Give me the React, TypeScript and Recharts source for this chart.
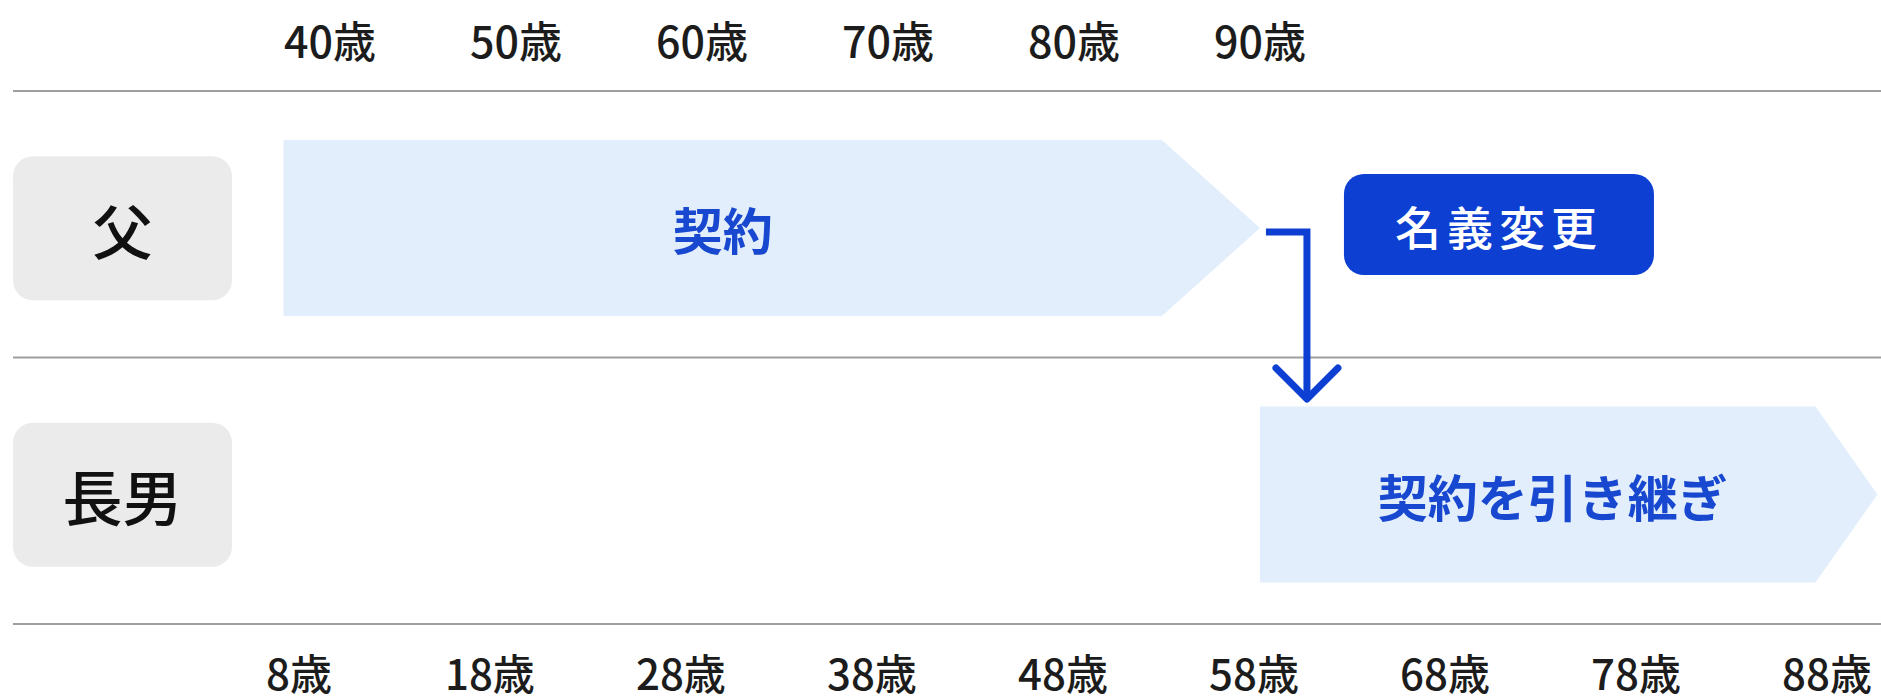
import React from 'react';
import { BarChart, Bar, XAxis, YAxis, CartesianGrid } from 'recharts';

// rows of the timeline
const people = ['父', '長男'];
// contract periods, on the father's age axis (son's age = father's age - 32)
const contractSpans: [number, number][] = [
    [37.5, 90],
    [90, 123.2],
];
const contractLabels = ['契約', '契約を引き継ぎ'];
const eventLabel = '名義変更';
const fatherAgeTicks = [40, 50, 60, 70, 80, 90];
const sonAgeTicks = [8, 18, 28, 38, 48, 58, 68, 78, 88];

const FONT = "'Noto Sans CJK JP', 'Noto Sans', sans-serif";
const BLUE = '#0c3fd2';
const TEXT_BLUE = '#1748cf';
const SHIFT = 4; // row content sits a little under the band centre
const TIP = [98, 62]; // arrow point length per row
const LABEL_NUDGE = [0, 15];

const data = people.map((person, i) => ({
    person,
    span: contractSpans[i],
    label: contractLabels[i],
}));

const TopTick = ({ x, y, payload }: any) => (
    <text x={x} y={y - 52} textAnchor="middle" dominantBaseline="central"
        fontSize={43} fontWeight={500} fill="#1c1c1c" fontFamily={FONT}>
        {payload.value}歳
    </text>
);

const BottomTick = ({ x, y, payload }: any) => (
    <text x={x} y={y + 47} textAnchor="middle" dominantBaseline="central"
        fontSize={42} fontWeight={500} fill="#1c1c1c" fontFamily={FONT}>
        {payload.value}歳
    </text>
);

const PersonTick = ({ y, payload }: any) => (
    <g>
        <rect x={13} y={y + SHIFT - 72} width={219} height={144} rx={20} fill="#ebebeb" />
        <text x={122.5} y={y + SHIFT} textAnchor="middle" dominantBaseline="central"
            fontSize={60} fontWeight={500} fill="#111" fontFamily={FONT}>
            {payload.value}
        </text>
    </g>
);

const ArrowBar = (props: any) => {
    const { x, y, width, height, index, payload } = props;
    const p = TIP[index] ?? 60;
    const top = y + SHIFT;
    const bottom = top + height;
    const cy = top + height / 2;
    const right = x + width;
    const pts = `${x},${top} ${right - p},${top} ${right},${cy} ${right - p},${bottom} ${x},${bottom}`;
    const labelX = x + (width - p) / 2 + (LABEL_NUDGE[index] ?? 0);

    return (
        <g>
            <polygon points={pts} fill="#e2eefc" />
            <text x={labelX} y={cy} textAnchor="middle" dominantBaseline="central"
                fontSize={50} fontWeight={700} fill={TEXT_BLUE} fontFamily={FONT}>
                {payload.label}
            </text>
            {index === 0 && (
                <g>
                    {/* hand-over connector down to the next row */}
                    <polyline
                        points={`${right + 6},${cy + 4} ${right + 47},${cy + 4} ${right + 47},${bottom + 83}`}
                        fill="none" stroke={BLUE} strokeWidth={7} />
                    <polyline
                        points={`${right + 16},${bottom + 52} ${right + 47},${bottom + 83} ${right + 78},${bottom + 52}`}
                        fill="none" stroke={BLUE} strokeWidth={7} strokeLinecap="round" strokeLinejoin="round" />
                    <rect x={right + 84} y={cy - 54} width={310} height={101} rx={20} fill={BLUE} />
                    <text x={right + 239} y={cy - 3} textAnchor="middle" dominantBaseline="central"
                        fontSize={46} fontWeight={500} fill="#fff" fontFamily={FONT} letterSpacing={6}>
                        {eventLabel}
                    </text>
                </g>
            )}
        </g>
    );
};

// row separators: top, middle and bottom of the plot area (two equal bands)
const rowLines = ({ offset }: any) => {
    const n = people.length;
    const lines: number[] = [];
    for (let i = 0; i <= n; i++) lines.push(offset.top + (offset.height * i) / n);
    return lines;
};

const App: React.FC = () => {
    return (
        <div style={{ position: 'absolute', left: 0, top: 0, width: 1881, height: 700, background: '#fff' }}>
            <BarChart
                width={1881}
                height={700}
                data={data}
                layout="vertical"
                margin={{ top: 0, right: 0, bottom: 0, left: 13 }}
            >
                <CartesianGrid vertical={false} stroke="#9e9e9e" strokeWidth={1.8}
                    horizontalCoordinatesGenerator={rowLines} />
                <XAxis xAxisId="father" orientation="top" type="number"
                    domain={[22.96, 123.39]} allowDataOverflow ticks={fatherAgeTicks} interval={0}
                    height={91} tickSize={0} tickMargin={0} axisLine={false} tickLine={false}
                    tick={<TopTick />} />
                <XAxis xAxisId="son" orientation="bottom" type="number"
                    domain={[-6.97, 90.83]} allowDataOverflow ticks={sonAgeTicks} interval={0}
                    height={76} tickSize={0} tickMargin={0} axisLine={false} tickLine={false}
                    tick={<BottomTick />} />
                <YAxis type="category" dataKey="person" mirror axisLine={false} tickLine={false}
                    tick={<PersonTick />} />
                <Bar xAxisId="father" dataKey="span" barSize={176} shape={<ArrowBar />}
                    isAnimationActive={false} />
            </BarChart>
        </div>
    );
};

export default App;
